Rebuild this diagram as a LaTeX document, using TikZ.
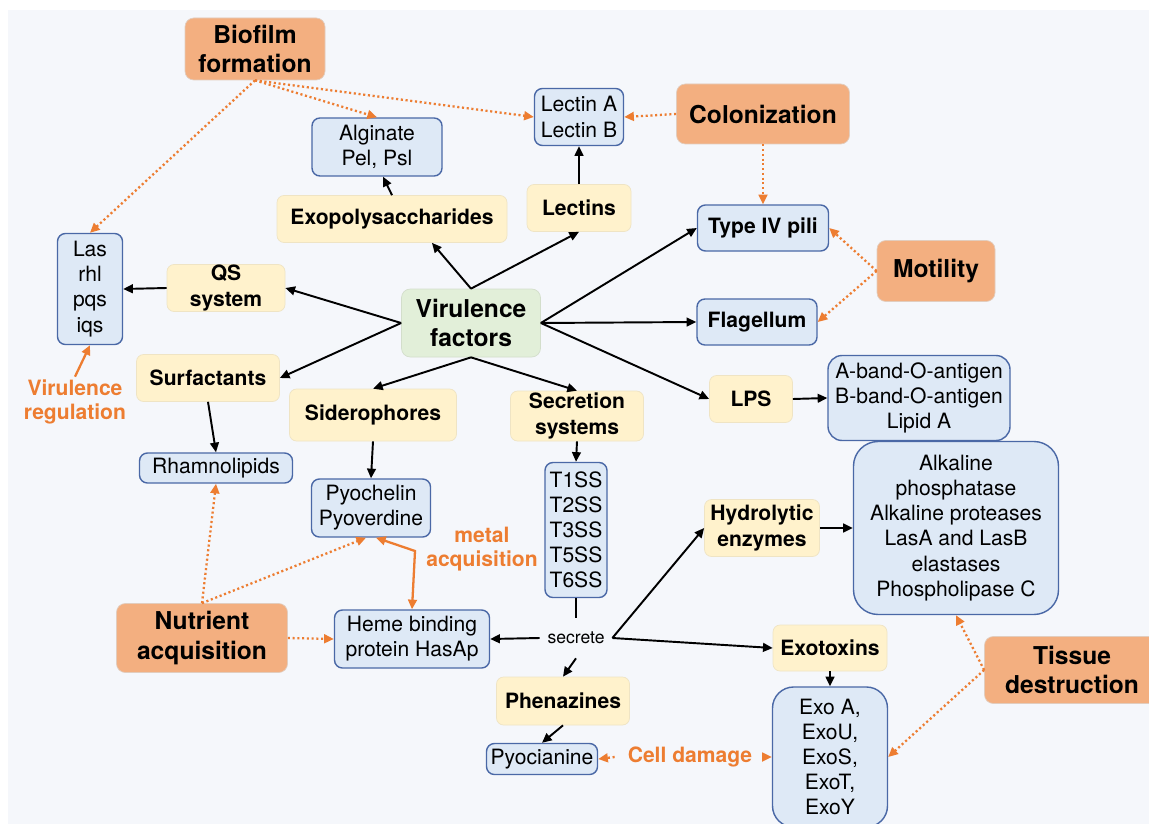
\documentclass[tikz,border=0pt]{standalone}
\usepackage{fontspec}
\setmainfont{TeX Gyre Heros}
\usetikzlibrary{arrows.meta,calc}

\definecolor{bgcol}{HTML}{F5F7FB}
\definecolor{orfill}{HTML}{F3AF80}
\definecolor{oredge}{HTML}{E2CDBE}
\definecolor{orline}{HTML}{ED7D31}
\definecolor{yelfill}{HTML}{FFF2CC}
\definecolor{yeledge}{HTML}{EFE4C4}
\definecolor{blufill}{HTML}{DEE9F6}
\definecolor{bluedge}{HTML}{4A68A6}
\definecolor{grnfill}{HTML}{E2EFD9}
\definecolor{grnedge}{HTML}{D3DECB}

\tikzset{
  dims/.style 2 args={minimum width=#1*0.02cm,minimum height=#2*0.02cm},
  plain/.style={inner sep=0pt,align=center},
  orangebox/.style={plain,draw=oredge,fill=orfill,rounded corners=5pt,
    font=\bfseries\fontsize{14}{17}\selectfont},
  greenbox/.style={plain,draw=grnedge,fill=grnfill,rounded corners=5pt,
    font=\bfseries\fontsize{14}{17}\selectfont},
  yellowbox/.style={plain,draw=yeledge,fill=yelfill,rounded corners=4pt,
    font=\bfseries\fontsize{12}{14.5}\selectfont},
  bluebox/.style={plain,draw=bluedge,line width=0.8pt,fill=blufill,rounded corners=4.5pt,
    font=\fontsize{12}{14.3}\selectfont},
  blueboldbox/.style={bluebox,font=\bfseries\fontsize{12}{14.3}\selectfont},
  label/.style={plain,text=orline,font=\bfseries\fontsize{12}{13.8}\selectfont},
  link/.style={draw=black,line width=1.1pt,->},
  hint/.style={draw=orline,line width=1.3pt,dash pattern=on 1.2pt off 1.5pt,->},
  hintsolid/.style={draw=orline,line width=1.3pt,->}
}

\begin{document}
\begin{tikzpicture}[x=0.02cm,y=-0.02cm,>={Triangle[length=5.5pt,width=5pt]}]
\fill[bgcol] (8,10) rectangle (1149,824);
\useasboundingbox (0,0) rectangle (1149,824);

% roles
\node[orangebox,dims={140}{62}] (bio) at (255,49) {Biofilm\\formation};
\node[orangebox,dims={173}{60}] (col) at (763,114) {Colonization};
\node[orangebox,dims={118}{61}] (mot) at (936,271) {Motility};
\node[orangebox,dims={175}{67}] (tis) at (1072,670) {Tissue\\destruction};
\node[orangebox,dims={171}{69}] (nut) at (202,638) {Nutrient\\acquisition};

\node[greenbox,dims={139}{68}] (vf) at (471,323) {Virulence\\factors};

% factor groups
\node[yellowbox,dims={230}{47}] (exo) at (392,219) {Exopolysaccharides};
\node[yellowbox,dims={104}{47}] (lectins) at (579,208) {Lectins};
\node[yellowbox,dims={118}{47}] (qs) at (226,288) {QS\\system};
\node[yellowbox,dims={143}{47}] (surf) at (208,378) {Surfactants};
\node[yellowbox,dims={167}{52}] (sid) at (373,415) {Siderophores};
\node[yellowbox,dims={133}{50}] (sec) at (577,416) {Secretion\\systems};
\node[yellowbox,dims={83}{47}] (lps) at (751,399) {LPS};
\node[yellowbox,dims={115}{57}] (hyd) at (762,528) {Hydrolytic\\enzymes};
\node[yellowbox,dims={114}{46}] (exot) at (830,648) {Exotoxins};
\node[yellowbox,dims={133}{48}] (phen) at (563,701) {Phenazines};

% members
\node[bluebox,dims={130}{58}] (alg) at (377,147) {Alginate\\Pel, Psl};
\node[bluebox,dims={89}{57}] (lecab) at (579,117) {Lectin A\\Lectin B};
\node[bluebox,dims={65}{111}] (las) at (90,289) {Las\\rhl\\pqs\\iqs};
\node[blueboldbox,dims={131}{46}] (t4p) at (763,228) {Type IV pili};
\node[blueboldbox,dims={120}{46}] (flag) at (757,322) {Flagellum};
\node[bluebox,rounded corners=8pt,dims={182}{85}] (lipid) at (919,398) {A-band-O-antigen\\B-band-O-antigen\\Lipid A};
\node[bluebox,rounded corners=14pt,dims={205}{173}] (alk) at (956,528) {Alkaline\\phosphatase\\Alkaline proteases\\LasA and LasB\\elastases\\Phospholipase C};
\node[bluebox,dims={153}{30}] (rham) at (216,468) {Rhamnolipids};
\node[bluebox,dims={119}{58}] (pyo) at (371,508) {Pyochelin\\Pyoverdine};
\node[bluebox,dims={62}{135}] (tss) at (576,530) {T1SS\\T2SS\\T3SS\\T5SS\\T6SS};
\node[bluebox,dims={155}{58}] (heme) at (412,639) {Heme binding\\protein HasAp};
\node[bluebox,dims={111}{31}] (pyoc) at (542,759) {Pyocianine};
\node[bluebox,rounded corners=12pt,dims={115}{140}] (exoa) at (830,757) {Exo A,\\ExoU,\\ExoS,\\ExoT,\\ExoY};

% free labels
\node[plain,font=\fontsize{10}{12}\selectfont,dims={72}{40}] (secr) at (576,638) {secrete};
\node[label,dims={110}{50}] (vreg) at (75,402) {Virulence\\regulation};
\node[label] (metal) at (482,549) {metal\\acquisition};
\node[label,dims={150}{20}] (cd) at (690,757) {Cell damage};
\coordinate (bend) at (415,551);

% black links
\draw[link] (vf.north) -- ($(exo.south)+(40,0)$);
\draw[link] (vf.north) -- (lectins.south);
\draw[link] (exo.north) -- ($(alg.south)+(6,0)$);
\draw[link] (lectins.north) -- (lecab.south);
\draw[link] (vf.west) -- (qs.east);
\draw[link] (qs.west) -- (las.east);
\draw[link] (vf.west) -- (surf.east);
\draw[link] (vf.south) -- (sid.north);
\draw[link] (vf.south) -- (sec.north);
\draw[link] (vf.east) -- (t4p.west);
\draw[link] (vf.east) -- (flag.west);
\draw[link] (vf.east) -- (lps.west);
\draw[link] (lps.east) -- (lipid.west);
\draw[link] (surf.south) -- (rham.north);
\draw[link] (sid.south) -- (pyo.north);
\draw[link] (sec.south) -- (tss.north);
\draw[line width=1.1pt] (tss.south) -- (secr.north);
\draw[link] (secr.west) -- (heme.east);
\draw[link] (secr.east) -- (hyd.west);
\draw[link] (secr.east) -- (exot.west);
\draw[link] (secr.south) -- (phen.north);
\draw[link] (hyd.east) -- (alk.west);
\draw[link] (exot.south) -- (exoa.north);
\draw[link] (phen.south) -- (pyoc.north);

% orange links
\draw[hint] (bio.south) -- (las.north);
\draw[hint] (bio.south) -- (alg.north);
\draw[hint] (bio.south) -- (lecab.west);
\draw[hint] (col.west) -- (lecab.east);
\draw[hint] (col.south) -- (t4p.north);
\draw[hint] (mot.west) -- (t4p.east);
\draw[hint] (mot.west) -- (flag.east);
\draw[hint] (tis.west) -- (alk.south);
\draw[hint] (tis.west) -- (exoa.east);
\draw[hint] (nut.north) -- (rham.south);
\draw[hint] (nut.north) -- ($(pyo.south)+(-5,0)$);
\draw[hint] (nut.east) -- (heme.west);
\draw[hint] (cd.west) -- (pyoc.east);
\draw[hint] (cd.east) -- (exoa.west);
\draw[hintsolid] (vreg.north) -- (las.south);
\draw[hintsolid,<->] ($(pyo.south)+(5,0)$) -- (bend) -- (heme.north);
\end{tikzpicture}
\end{document}
